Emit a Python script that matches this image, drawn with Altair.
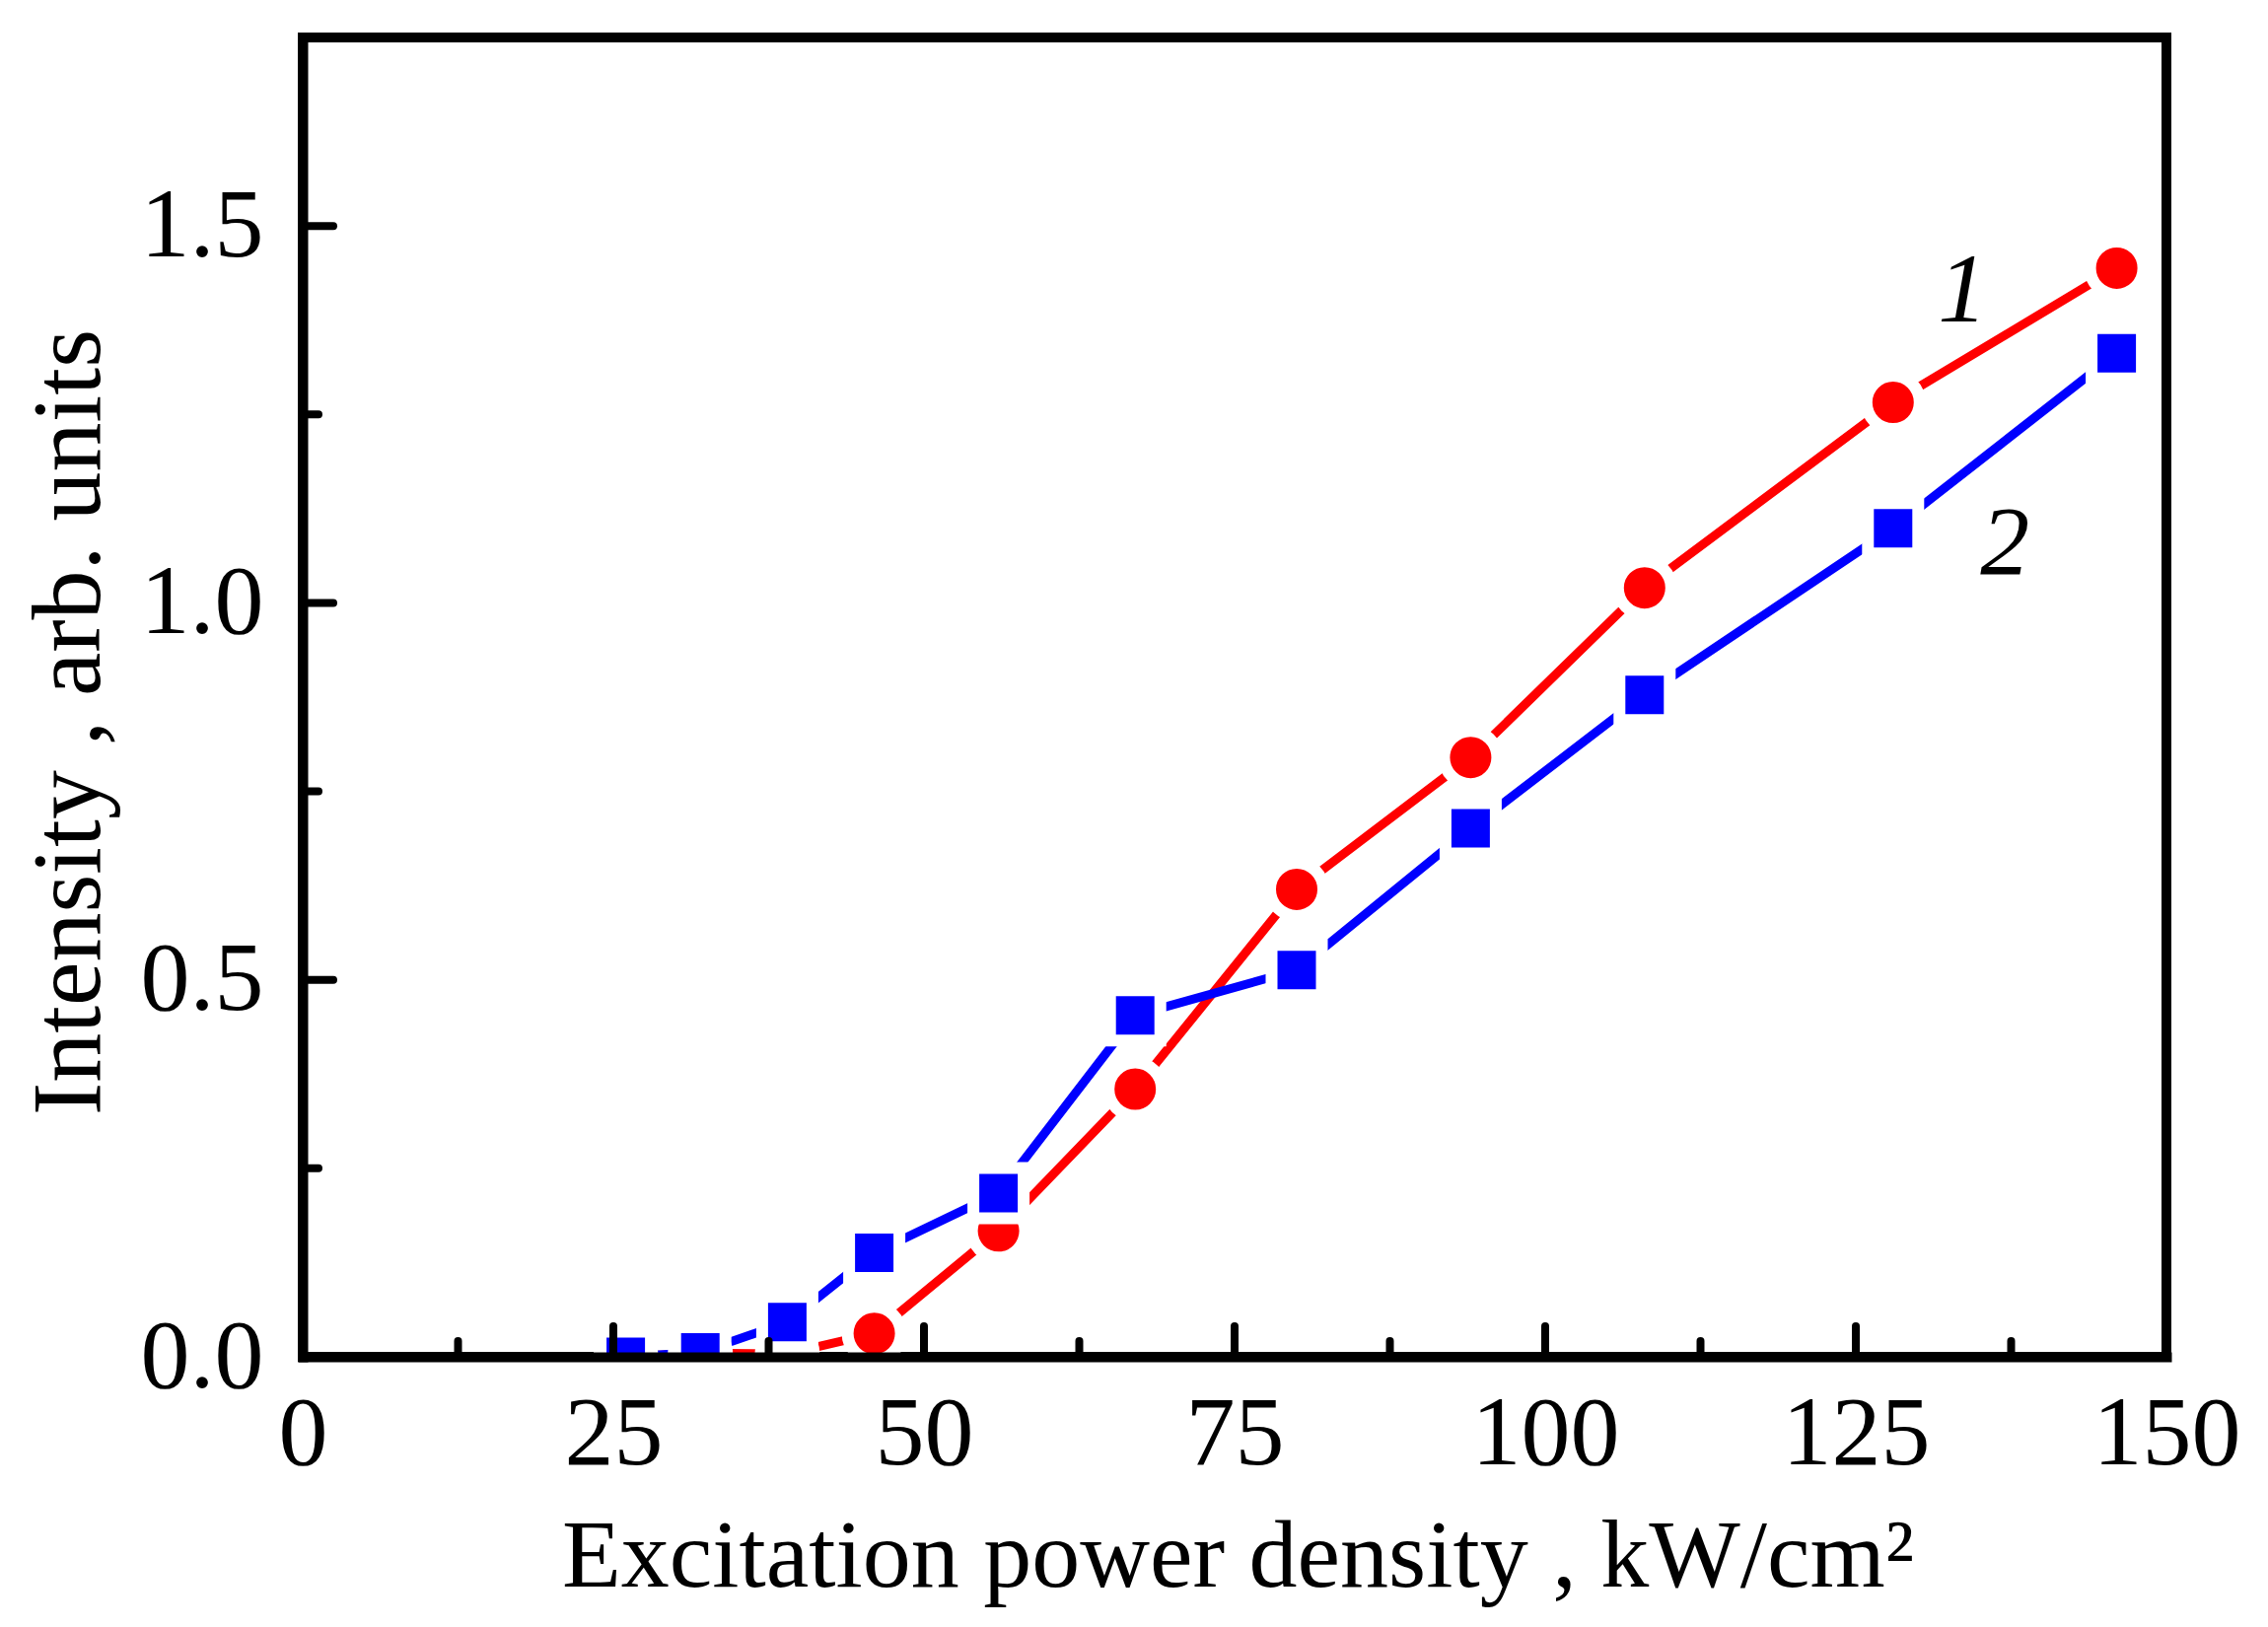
import altair as alt
import pandas as pd

# ---- data ----
x_vals = [26, 32, 39, 46, 56, 67, 80, 94, 108, 128, 146]
curve1 = [0.0, 0.005, 0.004, 0.031, 0.167, 0.355, 0.620, 0.795, 1.020, 1.266, 1.444]
curve2 = [0.0, 0.006, 0.046, 0.138, 0.217, 0.453, 0.513, 0.701, 0.878, 1.099, 1.331]

x_major = [0, 25, 50, 75, 100, 125, 150]
x_minor = [12.5, 37.5, 62.5, 87.5, 112.5, 137.5]
y_major = [0.0, 0.5, 1.0, 1.5]
y_minor = [0.25, 0.75, 1.25]

label_x = [133.6, 137.0]
label_y = [1.373, 1.039]
label_text = ["1", "2"]

x_title = "Excitation power density , kW/cm\u00b2"
y_title = "Intensity , arb. units"

W, H = 1890, 1338
FONT = "Liberation Serif"

df1 = pd.DataFrame({"x": x_vals, "y": curve1})
df2 = pd.DataFrame({"x": x_vals, "y": curve2})
df_lab = pd.DataFrame({"x": label_x, "y": label_y, "t": label_text})

xs = alt.Scale(domain=[0, 150], nice=False, zero=False)
ys = alt.Scale(domain=[0, 1.75], nice=False, zero=False)

xaxis = alt.Axis(values=x_major, format="d", labelFont=FONT, labelFontSize=100,
                 labelColor="black", labelPadding=29, ticks=False, tickSize=0,
                 domainColor="black", domainWidth=10, domainCap="square", grid=False,
                 title=x_title, titleFont=FONT, titleFontSize=98, titleFontWeight="normal",
                 titleColor="black", titleX=948, titleY=232, titleBaseline="alphabetic",
                 titleAlign="center", zindex=1, labelFlush=False, labelOverlap=False)
yaxis = alt.Axis(values=y_major, format=".1f", labelFont=FONT, labelFontSize=100,
                 labelColor="black", labelPadding=40, ticks=False, tickSize=0,
                 domainColor="black", domainWidth=10, domainCap="square", grid=False,
                 labelBaseline="middle", labelAlign="right",
                 title=y_title, titleFont=FONT, titleFontSize=100, titleFontWeight="normal",
                 titleColor="black", titleAngle=270, titleX=-207, titleY=694,
                 titleBaseline="alphabetic", titleAlign="center", zindex=1,
                 labelFlush=False, labelOverlap=False)

RED = "#FF0000"
BLUE = "#0000FF"


def X(field):
    return alt.X(field, scale=xs, axis=xaxis)


def Y(field):
    return alt.Y(field, scale=ys, axis=yaxis)


line1 = alt.Chart(df1).mark_line(color=RED, strokeWidth=9, clip=True).encode(
    x=X("x:Q"), y=Y("y:Q"))
line2 = alt.Chart(df2).mark_line(color=BLUE, strokeWidth=9, clip=True).encode(
    x=X("x:Q"), y=Y("y:Q"))

pts1 = alt.Chart(df1).mark_point(shape="circle", filled=True, fill=RED, stroke="white",
                                 strokeWidth=12, size=2916, opacity=1, fillOpacity=1,
                                 strokeOpacity=1, clip=True).encode(
    x=X("x:Q"), y=Y("y:Q"))
pts2 = alt.Chart(df2).mark_point(shape="square", filled=True, fill=BLUE, stroke="white",
                                 strokeWidth=12, size=2601, opacity=1, fillOpacity=1,
                                 strokeOpacity=1, clip=True).encode(
    x=X("x:Q"), y=Y("y:Q"))

tick_style = dict(color="black", strokeWidth=8, strokeCap="round")
tx_major = alt.Chart(pd.DataFrame({"x": x_major})).mark_rule(**tick_style).encode(
    x=X("x:Q"), y=alt.value(H), y2=alt.value(H - 31))
tx_minor = alt.Chart(pd.DataFrame({"x": x_minor})).mark_rule(**tick_style).encode(
    x=X("x:Q"), y=alt.value(H), y2=alt.value(H - 16))
ty_major = alt.Chart(pd.DataFrame({"y": y_major})).mark_rule(**tick_style).encode(
    y=Y("y:Q"), x=alt.value(0), x2=alt.value(31))
ty_minor = alt.Chart(pd.DataFrame({"y": y_minor})).mark_rule(**tick_style).encode(
    y=Y("y:Q"), x=alt.value(0), x2=alt.value(16))

labels = alt.Chart(df_lab).mark_text(font=FONT, fontSize=100, fontStyle="italic",
                                     baseline="alphabetic", align="center",
                                     color="black").encode(
    x=X("x:Q"), y=Y("y:Q"), text="t:N")

chart = alt.layer(line1, line2, pts1, pts2, tx_major, tx_minor, ty_major, ty_minor,
                  labels).properties(
    width=W, height=H,
    autosize=alt.AutoSizeParams(type="none"),
    padding={"left": 299, "top": 30, "right": 95, "bottom": 266},
    background="white",
).configure_view(stroke="black", strokeWidth=10)

chart.save("out.html", embed_options={"renderer": "svg", "actions": False})
